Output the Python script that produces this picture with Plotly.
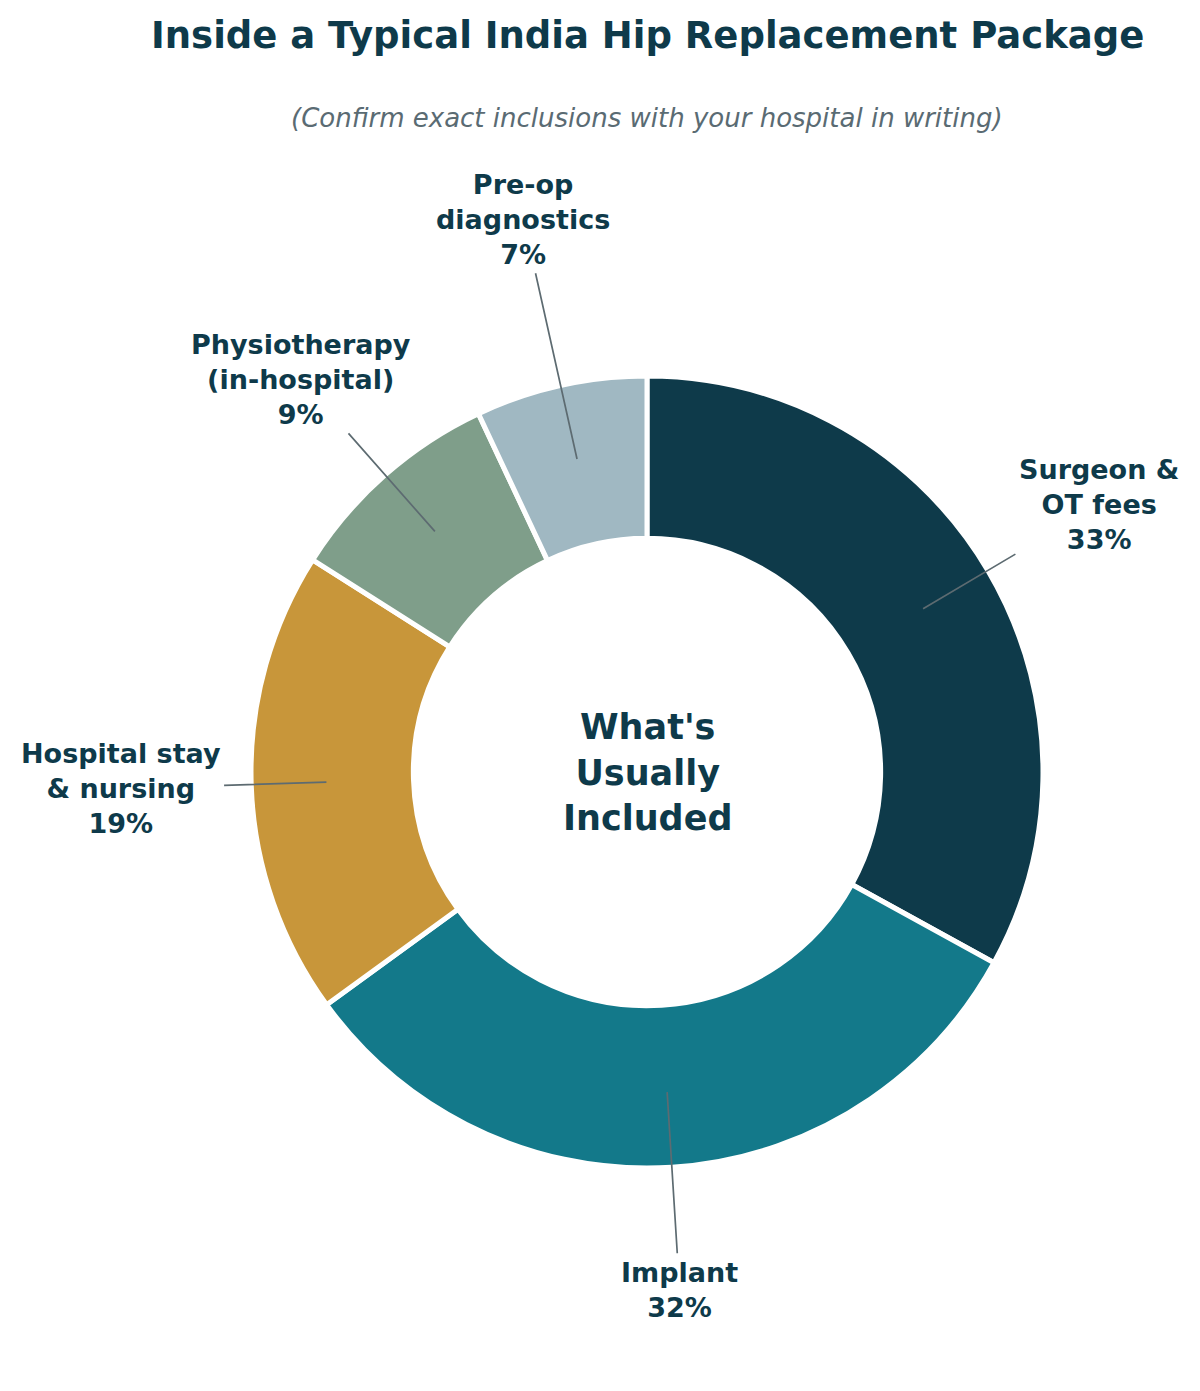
import math
import plotly.graph_objects as go

# data
categories = ["Surgeon &<br>OT fees", "Implant", "Hospital stay<br>& nursing",
              "Physiotherapy<br>(in-hospital)", "Pre-op<br>diagnostics"]
shares = [33, 32, 19, 9, 7]
colors = ["#0e3a4a", "#13798a", "#c8963a", "#7f9e8a", "#a0b8c2"]

# label distance from centre, as a fraction of the pie radius
label_dist = [1.325, 1.31, 1.33, 1.32, 1.43]

W, H = 1200, 1391
OFF = 8                     # page body margin
CX, CY, R = 647 - OFF, 772 - OFF, 396   # pie centre and radius in pixels
HOLE = 0.59
DARK = "#0e3a4a"
LINE = "#5d6b71"
FONT = "DejaVu Sans, Verdana, sans-serif"

fig = go.Figure()

fig.add_trace(go.Pie(
    labels=[c.replace("<br>", " ") for c in categories],
    values=shares,
    sort=False,
    direction="clockwise",
    rotation=0,
    hole=HOLE,
    marker=dict(colors=colors, line=dict(color="white", width=5)),
    textinfo="none",
    hoverinfo="label+percent",
    domain=dict(x=[(CX - R) / W, (CX + R) / W],
                y=[1 - (CY + R) / H, 1 - (CY - R) / H]),
    showlegend=False,
))

annotations = []
total = sum(shares)
cum = 0
for name, v, d in zip(categories, shares, label_dist):
    mid = (cum + v / 2) / total * 2 * math.pi
    cum += v
    sx, sy = math.sin(mid), -math.cos(mid)
    # leader line starts inside the ring
    px, py = CX + 0.81 * R * sx, CY + 0.81 * R * sy
    annotations.append(dict(
        x=px / W, y=1 - py / H, xref="paper", yref="paper",
        text=f"<b>{name}<br>{v}%</b>",
        showarrow=True, arrowhead=0, arrowwidth=1.7, arrowcolor=LINE,
        ax=(d - 0.81) * R * sx, ay=(d - 0.81) * R * sy,
        standoff=0, startstandoff=2,
        font=dict(family=FONT, size=27, color=DARK),
        align="center",
    ))

# centre text
annotations.append(dict(
    x=CX / W, y=1 - CY / H, xref="paper", yref="paper",
    text="<b>What's<br>Usually<br>Included</b>", showarrow=False,
    font=dict(family=FONT, size=35, color=DARK), align="center",
    xanchor="center", yanchor="middle",
))

# title and subtitle
annotations.append(dict(
    x=CX / W, y=1 - (35 - OFF) / H, xref="paper", yref="paper",
    text="<b>Inside a Typical India Hip Replacement Package</b>", showarrow=False,
    font=dict(family=FONT, size=37, color=DARK),
    xanchor="center", yanchor="middle",
))
annotations.append(dict(
    x=CX / W, y=1 - (118 - OFF) / H, xref="paper", yref="paper",
    text="<i>(Confirm exact inclusions with your hospital in writing)</i>", showarrow=False,
    font=dict(family=FONT, size=26, color="#5a6b73"),
    xanchor="center", yanchor="middle",
))

fig.update_layout(
    width=W, height=H,
    margin=dict(l=0, r=0, t=0, b=0),
    paper_bgcolor="white",
    plot_bgcolor="white",
    annotations=annotations,
)

fig.write_html("out.html")
